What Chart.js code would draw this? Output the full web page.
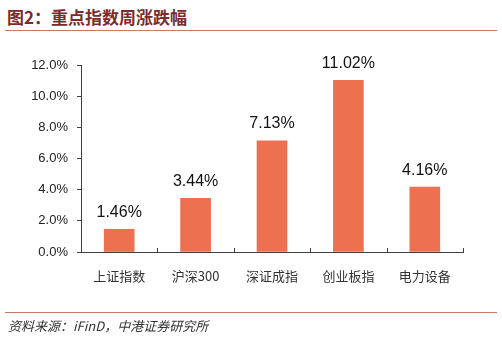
<!DOCTYPE html>
<html lang="zh">
<head>
<meta charset="UTF-8">
<title>重点指数周涨跌幅</title>
<script src="https://cdn.jsdelivr.net/npm/chart.js@4.4.0/dist/chart.umd.min.js"></script>
<style>
    body { margin: 0; background: #fff; }
    #wrap { position: relative; width: 502px; height: 340px; }
    #title {
        position: absolute; left: 7px; top: 4px;
        font: bold 17px "Noto Sans CJK SC", sans-serif; color: #7b2b2b;
    }
    .rule { position: absolute; left: 5px; width: 492px; height: 1px; background: #c47a63; }
    #source {
        position: absolute; left: 8px; top: 316px;
        font: italic 13px "Noto Sans CJK SC", "Liberation Sans", sans-serif; color: #333;
    }
    #chart { position: absolute; left: 0; top: 0; }
</style>
</head>
<body>
<div id="wrap">
    <div id="title">图2：重点指数周涨跌幅</div>
    <div class="rule" style="top:30px"></div>
    <canvas id="chart" width="502" height="340"></canvas>
    <div class="rule" style="top:312px"></div>
    <div id="source">资料来源：iFinD，中港证券研究所</div>
</div>
<script>
    const categories = ['上证指数', '沪深300', '深证成指', '创业板指', '电力设备'];
    const weeklyChange = [1.46, 3.44, 7.13, 11.02, 4.16];
    const yTicks = [0, 2, 4, 6, 8, 10, 12];

    const axisColor = '#404040';

    // value labels above each bar
    const barLabels = {
        id: 'barLabels',
        afterDatasetsDraw(chart) {
            const ctx = chart.ctx;
            const meta = chart.getDatasetMeta(0);
            ctx.save();
            ctx.font = '16px "Liberation Sans", sans-serif';
            ctx.fillStyle = '#111';
            ctx.textAlign = 'center';
            ctx.textBaseline = 'bottom';
            meta.data.forEach((bar, i) => {
                ctx.fillText(weeklyChange[i].toFixed(2) + '%', bar.x, bar.y - 9);
            });
            ctx.restore();
        }
    };

    // small upward ticks between categories on the x axis
    const xTicks = {
        id: 'xTicks',
        afterDraw(chart) {
            const ctx = chart.ctx;
            const x = chart.scales.x;
            const bottom = chart.chartArea.bottom;
            ctx.save();
            ctx.strokeStyle = axisColor;
            ctx.lineWidth = 1;
            for (let i = 0; i <= categories.length; i++) {
                const px = Math.round(x.getPixelForValue(i - 0.5)) + 0.5;
                ctx.beginPath();
                ctx.moveTo(px, bottom);
                ctx.lineTo(px, bottom - 4);
                ctx.stroke();
            }
            ctx.restore();
        }
    };

    new Chart(document.getElementById('chart'), {
        type: 'bar',
        data: {
            labels: categories,
            datasets: [{
                data: weeklyChange,
                backgroundColor: '#ed7050',
                barThickness: 30
            }]
        },
        options: {
            responsive: false,
            animation: false,
            layout: { padding: { top: 65, right: 39, left: 0, bottom: 0 } },
            plugins: { legend: { display: false }, tooltip: { enabled: false } },
            scales: {
                x: {
                    afterFit(scale) { scale.height = 88; },
                    grid: { display: false },
                    border: { color: axisColor, width: 1 },
                    ticks: {
                        padding: 8,
                        color: '#333',
                        font: { family: '"Noto Sans CJK SC", sans-serif', size: 13 }
                    }
                },
                y: {
                    min: 0,
                    max: 12,
                    afterFit(scale) { scale.width = 81; },
                    afterBuildTicks(scale) { scale.ticks = yTicks.map(v => ({ value: v })); },
                    grid: { drawOnChartArea: false, drawTicks: true, tickLength: 4, color: axisColor },
                    border: { color: axisColor, width: 1 },
                    ticks: {
                        padding: 9,
                        color: '#222',
                        font: { family: '"Liberation Sans", sans-serif', size: 13 },
                        callback: v => v.toFixed(1) + '%'
                    }
                }
            }
        },
        plugins: [barLabels, xTicks]
    });
</script>
</body>
</html>
